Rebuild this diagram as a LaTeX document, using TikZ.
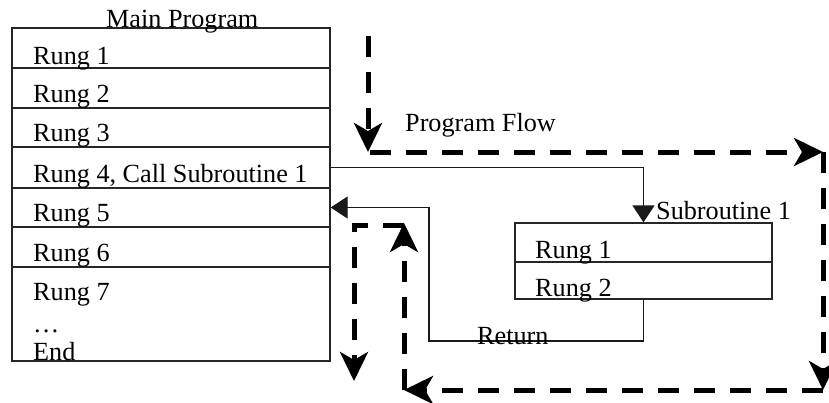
\documentclass[tikz,border=0pt]{standalone}
\usepackage{fontspec}
\setmainfont{Liberation Serif}
\usetikzlibrary{arrows.meta,calc}

\tikzset{
  lbl/.style={anchor=base west, inner sep=0pt, font=\fontsize{26.2}{30}\selectfont},
  rowbox/.style={draw=black!85, line width=1.3pt, inner sep=0pt, minimum width=318pt},
  subbox/.style={draw=black!85, line width=1.3pt, inner sep=0pt, minimum width=257pt},
  conn/.style={draw=black!90, line width=1.3pt},
  callhead/.style={-{Triangle[length=17pt,width=22pt]}},
  flow/.style={line width=5pt, dash pattern=on 21pt off 15pt,
               -{Stealth[length=29pt,width=28pt,inset=8pt]}}
}

\begin{document}
\begin{tikzpicture}[x=1pt,y=-1pt]
\useasboundingbox (0,0) rectangle (829,402);

% main program rows
\node[rowbox, minimum height=40pt] (r1) at (171,48) {};
\node[rowbox, minimum height=40pt] (r2) at (171,88) {};
\node[rowbox, minimum height=39pt] (r3) at (171,127.5) {};
\node[rowbox, minimum height=41pt] (r4) at (171,167.5) {};
\node[rowbox, minimum height=39pt] (r5) at (171,207.5) {};
\node[rowbox, minimum height=40pt] (r6) at (171,247) {};
\node[rowbox, minimum height=94pt] (r7) at (171,314) {};

\node[lbl] (tmain) at (106,27) {Main Program};
\node[lbl] (t1) at (33,64) {Rung 1};
\node[lbl] (t2) at (33,102) {Rung 2};
\node[lbl] (t3) at (33,141) {Rung 3};
\node[lbl] (t4) at (33,182) {Rung 4, Call Subroutine 1};
\node[lbl] (t5) at (33,221) {Rung 5};
\node[lbl] (t6) at (33,261) {Rung 6};
\node[lbl] (t7) at (33,300) {Rung 7};
\node[lbl] (tdots) at (33,332) {…};
\node[lbl] (tend) at (33,360) {End};

% subroutine rows
\node[subbox, minimum height=39pt] (s1) at (643.5,242.5) {};
\node[subbox, minimum height=37pt] (s2) at (643.5,280.5) {};
\node[lbl] (tsub) at (656,219) {Subroutine 1};
\node[lbl] (ts1) at (535,258) {Rung 1};
\node[lbl] (ts2) at (535,296) {Rung 2};

% call and return connectors
\draw[conn, callhead] (r4.east) -| (s1.north);
\coordinate (ret) at (429,341);
\draw[conn, callhead] (s2.south) |- (ret) |- (r5.east);
\node[lbl] (tret) at (477,344) {Return};

% program flow
\coordinate (f0) at (368,36);
\coordinate (f1) at (368,152);
\coordinate (f2) at (823,152);
\coordinate (f3) at (823,390);
\coordinate (f4) at (404,390);
\coordinate (f5) at (404,223);
\coordinate (f6) at (354,225);
\coordinate (f7) at (354,381);
\node[lbl] (tflow) at (405,131) {Program Flow};

\draw[flow] (f0) -- (f1);
\draw[flow] ([xshift=2pt]f1) -- (f2);
\draw[flow] (f2) -- (f3);
\draw[flow] (f3) -- (f4);
\draw[flow] (f4) -- (f5);
\draw[flow] (404,225) -- (f6) -- (f7);
\end{tikzpicture}
\end{document}
